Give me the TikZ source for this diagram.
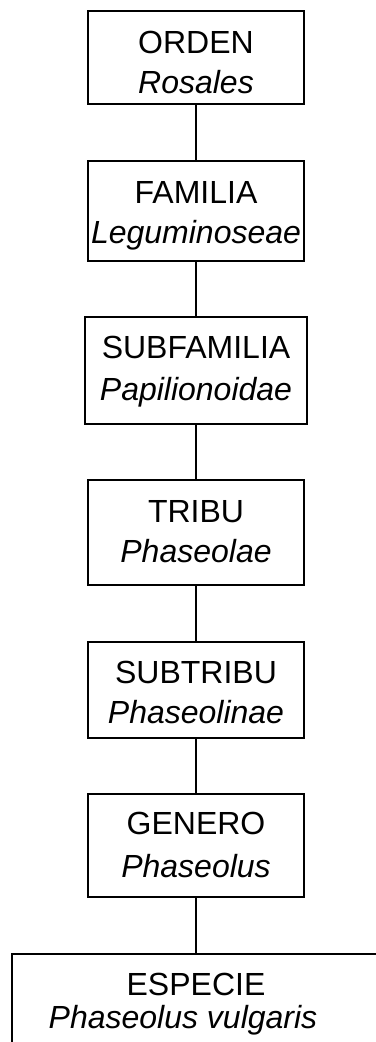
\documentclass[tikz,border=0pt]{standalone}
\usepackage{fontspec}
\setmainfont{Liberation Sans}
\begin{document}
\begin{tikzpicture}[x=0.75pt,y=-0.75pt,
  box/.style={draw, line width=0.8pt, inner sep=0pt},
  lbl/.style={anchor=base, inner sep=0pt, font=\fontsize{24}{28}\selectfont},
  conn/.style={line width=0.8pt}]
\useasboundingbox (0,0) rectangle (375,1042);
% boxes
\node[box, minimum width={216*0.75pt}, minimum height={93*0.75pt}]  (b1) at (196,57.5) {};
\node[box, minimum width={216*0.75pt}, minimum height={100*0.75pt}] (b2) at (196,211) {};
\node[box, minimum width={222*0.75pt}, minimum height={107*0.75pt}] (b3) at (196,370.5) {};
\node[box, minimum width={216*0.75pt}, minimum height={105*0.75pt}] (b4) at (196,532.5) {};
\node[box, minimum width={216*0.75pt}, minimum height={96*0.75pt}]  (b5) at (196,690) {};
\node[box, minimum width={216*0.75pt}, minimum height={103*0.75pt}] (b6) at (196,845.5) {};
\node[box, minimum width={368*0.75pt}, minimum height={120*0.75pt}] (b7) at (196,1014) {};
% labels
\node[lbl] (t1a) at (196,53) {ORDEN};
\node[lbl] (t1b) at (196,93) {\itshape Rosales};
\node[lbl] (t2a) at (196,203) {FAMILIA};
\node[lbl] (t2b) at (196,243) {\itshape Leguminoseae};
\node[lbl] (t3a) at (196,358) {SUBFAMILIA};
\node[lbl] (t3b) at (196,400) {\itshape Papilionoidae};
\node[lbl] (t4a) at (196,522) {TRIBU};
\node[lbl] (t4b) at (196,562) {\itshape Phaseolae};
\node[lbl] (t5a) at (196,683) {SUBTRIBU};
\node[lbl] (t5b) at (196,723) {\itshape Phaseolinae};
\node[lbl] (t6a) at (196,834) {GENERO};
\node[lbl] (t6b) at (196,877) {\itshape Phaseolus};
\node[lbl] (t7a) at (196,995) {ESPECIE};
\node[lbl] (t7b) at (183,1028) {\itshape Phaseolus vulgaris};
% connectors
\draw[conn] (b1.south) -- (b2.north);
\draw[conn] (b2.south) -- (b3.north);
\draw[conn] (b3.south) -- (b4.north);
\draw[conn] (b4.south) -- (b5.north);
\draw[conn] (b5.south) -- (b6.north);
\draw[conn] (b6.south) -- (b7.north);
\end{tikzpicture}
\end{document}
